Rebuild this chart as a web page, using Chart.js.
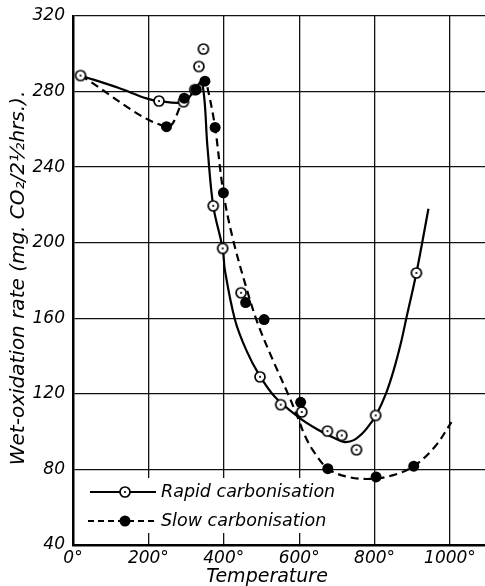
<!DOCTYPE html>
<html>
<head>
<meta charset="utf-8">
<script src="https://cdn.jsdelivr.net/npm/chart.js@4.4.1/dist/chart.umd.min.js"></script>
<style>
  html, body { margin: 0; padding: 0; background: #fff; overflow: hidden; }
  #wrap { width: 485px; height: 586px; }
  #WetOxidation { display: block; }
</style>
</head>
<body>
<div id="wrap"><canvas id="WetOxidation" width="485" height="586"></canvas></div>
<script>
// Measured points (temperature in deg C, rate in mg CO2 / 2.5 hrs)
const rapidTemp = [20, 228, 293, 323, 334, 346, 372, 397, 446, 496, 551, 607, 675, 713, 752, 803, 911];
const rapidRate = [288.5, 275, 274.6, 281, 293.3, 302.5, 219.5, 197, 173.5, 129, 114.3, 110.4, 100.3, 98, 90.4, 108.6, 184];

const slowTemp = [248, 295, 327, 350, 377, 399, 458, 507, 604, 676, 804, 904];
const slowRate = [261.4, 276.5, 281, 285.5, 261, 226.4, 168.3, 159.3, 115.5, 80.4, 76, 81.7];

// Hand-drawn curves through the points
const rapidCurveTemp = [20, 120, 195, 228, 293, 320, 342, 357, 372, 397, 403, 430, 460, 492, 536, 598, 650, 700, 721, 745, 770, 790, 804, 830, 850, 870, 885, 911, 943];
const rapidCurveRate = [288.5, 282, 276.4, 275, 274.4, 280, 285, 250, 219.5, 197, 185.4, 159, 143, 130.7, 118.3, 107.7, 101, 96, 94.5, 95.5, 99.5, 104.5, 108.6, 120, 132, 147, 160.7, 184, 218];

const slowCurveTemp = [20, 248, 293, 328, 350, 359, 377, 399, 425, 465, 491, 530, 571, 593, 615, 637, 676, 730, 790, 850, 904, 960, 1004];
const slowCurveRate = [288.5, 261.4, 275, 281, 285.5, 280, 261, 226.4, 201.3, 172.7, 156.8, 138, 119.7, 109.1, 98, 90, 80.4, 76, 75, 77, 81.7, 92, 105];

// Axis ticks
const xTicks = [0, 200, 400, 600, 800, 1000];
const yTicks = [40, 80, 120, 160, 200, 240, 280, 320];

const seriesNames = ['Rapid carbonisation', 'Slow carbonisation'];
const xTitle = 'Temperature';
const yTitle = 'Wet-oxidation rate (mg. CO\u2082/2\u00BDhrs.).';

(function () {
  "use strict";

  const ink = '#000';
  const fontFamily = "'DejaVu Sans', 'Noto Sans', sans-serif";

  function toXY(xs, ys) {
    return xs.map(function (x, i) { return { x: x, y: ys[i] }; });
  }

  // open circle with a dot in the middle
  function ringDot() {
    const c = document.createElement('canvas');
    c.width = 14; c.height = 14;
    const g = c.getContext('2d');
    g.beginPath();
    g.arc(7, 7, 5, 0, 2 * Math.PI);
    g.fillStyle = '#fff';
    g.fill();
    g.lineWidth = 1.7;
    g.strokeStyle = ink;
    g.stroke();
    g.beginPath();
    g.arc(7, 7, 1.1, 0, 2 * Math.PI);
    g.fillStyle = ink;
    g.fill();
    return c;
  }
  const ring = ringDot();

  // Titles and the boxed legend inside the plot
  const decorations = {
    id: 'decorations',
    afterDraw: function (chart) {
      const ctx = chart.ctx;
      ctx.save();

      // legend
      ctx.fillStyle = '#fff';
      ctx.fillRect(75, 478, 263, 55);
      const rows = [492, 521];
      ctx.strokeStyle = ink;
      ctx.lineWidth = 2;
      ctx.beginPath();
      ctx.moveTo(90, rows[0]); ctx.lineTo(156, rows[0]);
      ctx.stroke();
      ctx.setLineDash([6, 4]);
      ctx.beginPath();
      ctx.moveTo(88, rows[1]); ctx.lineTo(158, rows[1]);
      ctx.stroke();
      ctx.setLineDash([]);
      ctx.drawImage(ring, 125 - 7, rows[0] - 7);
      ctx.fillStyle = ink;
      ctx.beginPath();
      ctx.arc(125, rows[1], 5.5, 0, 2 * Math.PI);
      ctx.fill();

      ctx.font = 'italic 17.5px ' + fontFamily;
      ctx.textBaseline = 'middle';
      ctx.textAlign = 'left';
      ctx.fillText(seriesNames[0], 161, rows[0]);
      ctx.fillText(seriesNames[1], 161, rows[1]);

      // axis titles
      ctx.font = 'italic 19px ' + fontFamily;
      ctx.textAlign = 'center';
      ctx.textBaseline = 'top';
      ctx.fillText(xTitle, 267, 568);

      ctx.translate(19, 278);
      ctx.rotate(-Math.PI / 2);
      ctx.textBaseline = 'middle';
      ctx.font = 'italic 20px ' + fontFamily;
      ctx.fillText(yTitle, 0, 0);
      ctx.restore();
    }
  };

  const el = document.getElementById('WetOxidation');
  new Chart(el.getContext('2d'), {
    type: 'scatter',
    data: {
      datasets: [{
        label: seriesNames[0] + ' curve',
        data: toXY(rapidCurveTemp, rapidCurveRate),
        showLine: true,
        pointRadius: 0,
        borderColor: ink,
        borderWidth: 2.2,
        tension: 0.35,
        order: 4
      },
      {
        label: seriesNames[1] + ' curve',
        data: toXY(slowCurveTemp, slowCurveRate),
        showLine: true,
        pointRadius: 0,
        borderColor: ink,
        borderWidth: 2.2,
        borderDash: [8, 5],
        tension: 0.35,
        order: 3
      },
      {
        label: seriesNames[1],
        data: toXY(slowTemp, slowRate),
        pointStyle: 'circle',
        pointRadius: 5.5,
        backgroundColor: ink,
        borderColor: ink,
        borderWidth: 0,
        order: 1
      },
      {
        label: seriesNames[0],
        data: toXY(rapidTemp, rapidRate),
        pointStyle: ring,
        pointRadius: 6,
        order: 2
      }]
    },
    options: {
      responsive: false,
      animation: false,
      events: [],
      layout: {
        autoPadding: false,
        padding: { top: 16, right: 0, bottom: 0, left: 0 }
      },
      plugins: {
        legend: { display: false },
        tooltip: { enabled: false }
      },
      scales: {
        x: {
          type: 'linear',
          min: 0,
          max: 1093,
          afterBuildTicks: function (scale) {
            scale.ticks = xTicks.map(function (v) { return { value: v }; });
          },
          afterFit: function (scale) {
            scale.height = 41;
            scale.paddingLeft = 0;
            scale.paddingRight = 0;
          },
          border: { display: true, color: ink, width: 2.5 },
          grid: { color: '#111', lineWidth: 1.3, drawTicks: false },
          ticks: {
            color: ink,
            padding: 3,
            maxRotation: 0,
            font: { family: fontFamily, size: 17, style: 'italic' },
            callback: function (value) { return value + '\u00B0'; }
          }
        },
        y: {
          min: 40,
          max: 320,
          afterBuildTicks: function (scale) {
            scale.ticks = yTicks.map(function (v) { return { value: v }; });
          },
          afterFit: function (scale) {
            scale.width = 73;
            scale.paddingTop = 0;
            scale.paddingBottom = 0;
          },
          border: { display: true, color: ink, width: 2.5 },
          grid: { color: '#111', lineWidth: 1.3, drawTicks: false },
          ticks: {
            color: ink,
            padding: 8,
            font: { family: fontFamily, size: 17, style: 'italic' }
          }
        }
      }
    },
    plugins: [decorations]
  });
})();
</script>
</body>
</html>
